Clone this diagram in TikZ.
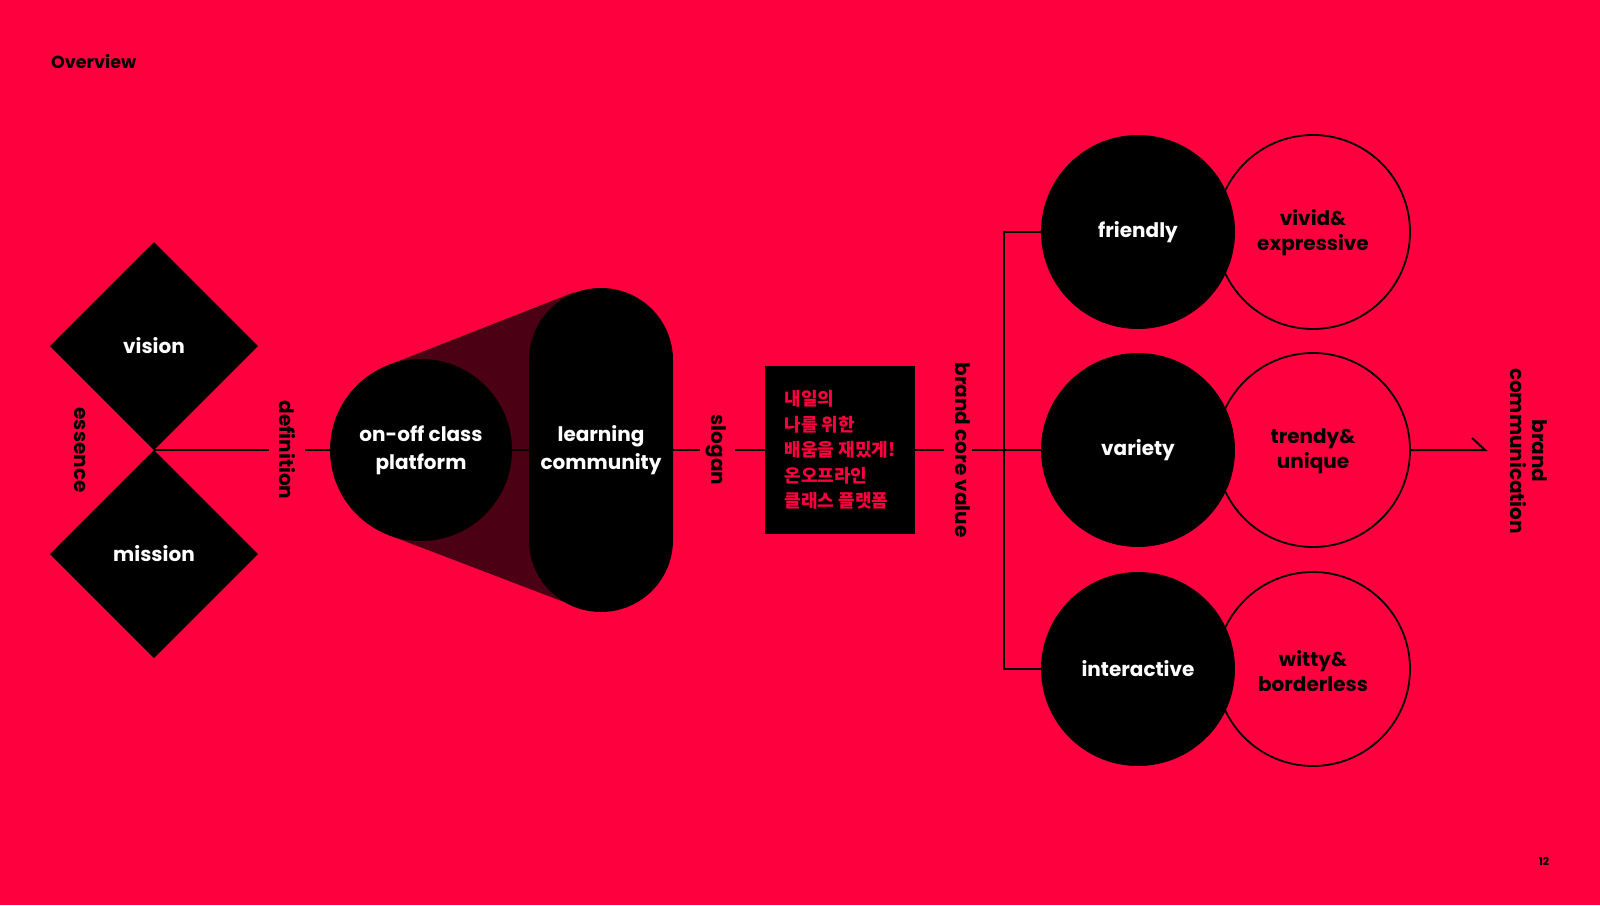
\documentclass[tikz,border=0pt]{standalone}
\usepackage{fontspec}
\setmainfont{Poppins}
\newfontfamily\kr{Noto Sans CJK KR}
\usetikzlibrary{shapes.geometric}
\definecolor{bg}{RGB}{255,0,62}
\definecolor{funnel}{RGB}{75,0,20}
\begin{document}
\begin{tikzpicture}[x=1pt,y=-1pt,
  wtext/.style={text=white, font=\bfseries\fontsize{20}{28}\selectfont, align=center},
  btext/.style={text=black, font=\bfseries\fontsize{20}{25}\selectfont, align=center},
  rlabel/.style={text=black, font=\bfseries\fontsize{20}{22}\selectfont, rotate=-90, align=center, inner sep=0pt, outer sep=0pt},
  dia/.style={diamond, fill=black, minimum width=208pt, minimum height=208pt, inner sep=0pt, outer sep=0pt},
  blackc/.style={circle, fill=black, minimum size=194pt, inner sep=0pt, outer sep=0pt},
  outc/.style={circle, draw=black, line width=1.8pt, minimum size=194pt, inner sep=0pt, outer sep=0pt},
  conn/.style={draw=black, line width=2pt}]
\useasboundingbox (0,0) rectangle (1600,905);
\fill[bg] (0,0) rectangle (1600,905);

% header and page number
\node[anchor=west, inner sep=0pt, font=\bfseries\fontsize{17.5}{20}\selectfont] (ov) at (51,62) {Overview};
\node[inner sep=0pt, font=\bfseries\fontsize{11}{13}\selectfont] (pg) at (1544,861) {12};

% diamonds
\node[dia, wtext] (vis) at (154,346) {vision};
\node[dia, wtext] (mis) at (154,554) {mission};
\node[rlabel] (ess) at (80,450) {essence};
\node[rlabel] (def) at (287.5,450) {definition};

% funnel
\fill[funnel] (387.8,365.3) -- (574.7,292.0) -- (575.3,606.3) -- (388.6,535.0) -- cycle;
\node[circle, fill=black, minimum size=182pt, inner sep=0pt, outer sep=0pt, wtext] (oo) at (421,450) {on-off class\\platform};
\node[fill=black, minimum width=144pt, minimum height=324pt, rounded corners=72pt, inner sep=0pt, outer sep=0pt, wtext] (lc) at (601,450) {learning\\community};
\node[rlabel] (slo) at (716.5,450) {slogan};

% slogan box
\node[fill=black, minimum width=150pt, minimum height=168pt, inner sep=0pt, outer sep=0pt, align=left, text=bg,
      font=\kr\bfseries\fontsize{18}{25.5}\selectfont] (kbox) at (840,450)
  {내일의\\나를 위한\\배움을 재밌게!\\온오프라인\\클래스 플랫폼};
\node[rlabel] (bcv) at (962.5,450) {brand core value};

% core values
\node[outc] (fo) at (1313,232) {};
\node[outc] (vo) at (1313,450) {};
\node[outc] (io) at (1313,669) {};
\node[blackc, wtext] (fri) at (1138,232) {friendly};
\node[blackc, wtext] (var) at (1138,450) {variety};
\node[blackc, wtext] (int) at (1138,669) {interactive};
\node[btext] (fot) at (1313,233) {vivid\&\\expressive};
\node[btext] (vot) at (1313,451) {trendy\&\\unique};
\node[btext] (iot) at (1313,671) {witty\&\\borderless};
\node[rlabel] (bc) at (1529,451) {brand\\communication};
\coordinate (tip) at (1485,450);

% connectors
\draw[conn] (vis.south) -- ([xshift=-10.5pt]def.south);
\draw[conn] ([xshift=9pt]def.north) -- (oo.west);
\draw[conn] (oo.east) -- (lc.west);
\draw[conn] (lc.east) -- ([xshift=-6pt]slo.south);
\draw[conn] ([xshift=8pt]slo.north) -- (kbox.west);
\draw[conn] (kbox.east) -- ([xshift=-11pt]bcv.south);
\draw[conn] ([xshift=2pt]bcv.north) -- (var.west);
\draw[conn] (fri.west) -- ([xshift=-37pt]fri.west) |- (int.west);
\draw[conn, miter limit=10] (vo.east) -- (tip) -- ++(-13,-12);
\end{tikzpicture}
\end{document}
